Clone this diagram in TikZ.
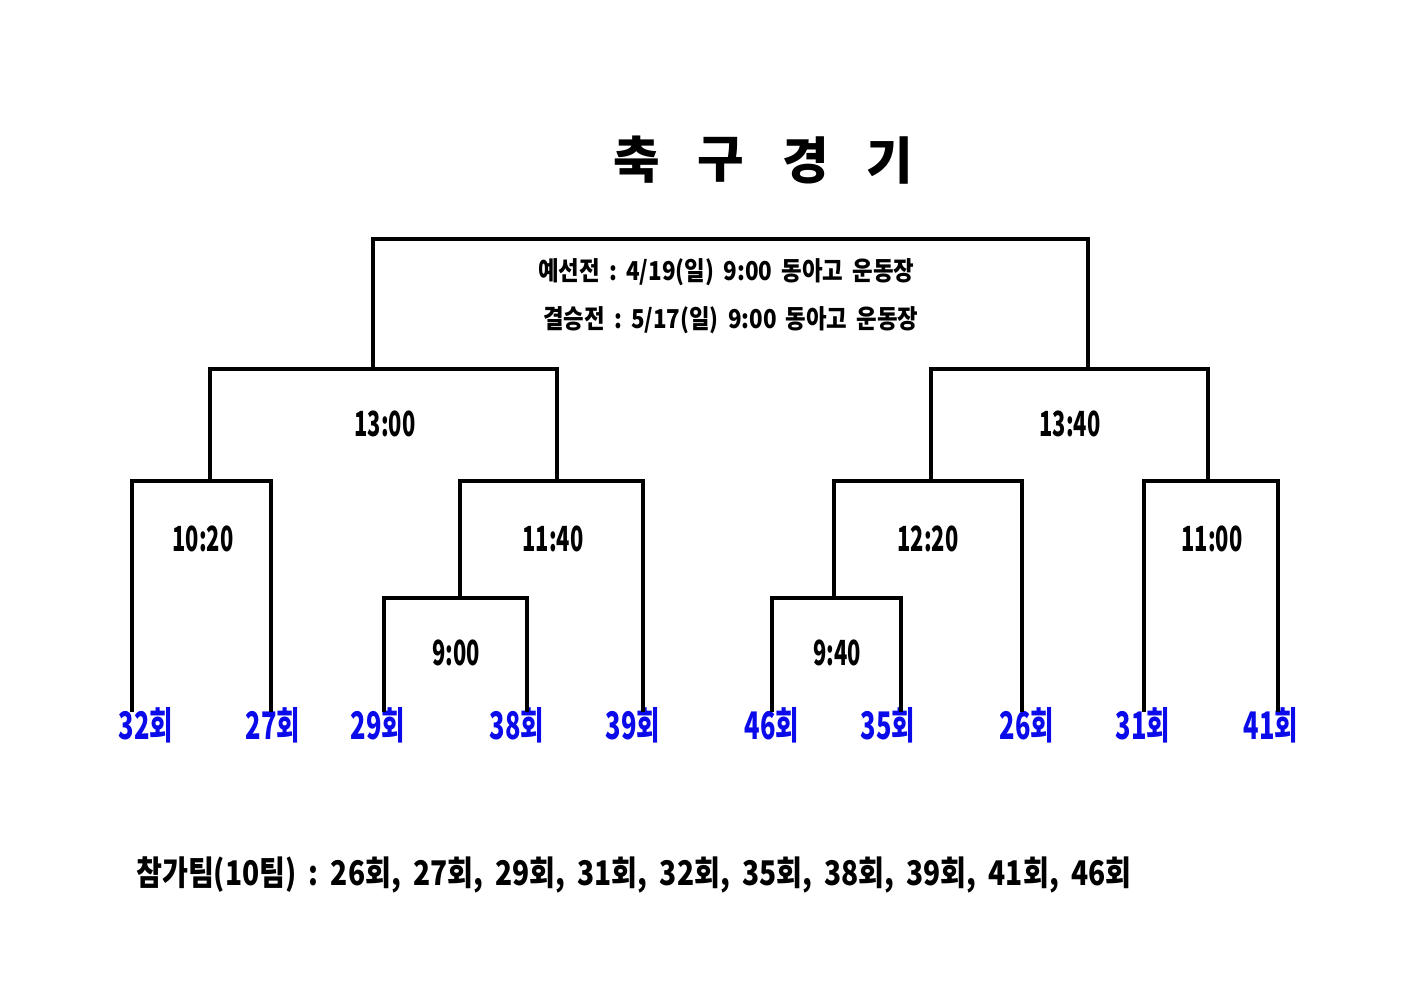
\documentclass[tikz,border=0pt]{standalone}
\usepackage{fontspec}
\newfontfamily\kr{Noto Sans CJK KR Black}
\newdimen\pxu \pxu=0.75pt
\newcommand\nar[2]{\scalebox{#1}[1]{#2}}
\newcommand\fitw[2]{\resizebox{#1\pxu}{\height}{#2}}
\newcommand\isp{\hspace{8pt}}
\newcommand\fsp{\hspace{11pt}}
\definecolor{teamblue}{RGB}{10,10,235}
\begin{document}
\begin{tikzpicture}[x=0.75pt,y=-0.75pt,
  br/.style={line width=2.3pt,line join=miter,line cap=rect},
  tm/.style={inner sep=0pt,font=\kr\fontsize{26}{26}\selectfont},
  team/.style={inner sep=0pt,text=teamblue,font=\kr\fontsize{28.5}{28.5}\selectfont},
  info/.style={inner sep=0pt,font=\kr\fontsize{19.5}{19.5}\selectfont},
  ttl/.style={inner sep=0pt,font=\kr\fontsize{38}{38}\selectfont},
  foot/.style={inner sep=0pt,font=\kr\fontsize{25.5}{25.5}\selectfont}]
\useasboundingbox[fill=white] (0,0) rectangle (1403,992);
% title
\node[ttl] (title1) at (637,160) {축};
\node[ttl] (title2) at (721,160) {구};
\node[ttl] (title3) at (806,160) {경};
\node[ttl] (title4) at (890,160) {기};
% info
\node[info,anchor=west] (info1) at (538,272) {\fitw{376}{예선전\isp{}:\isp{}4/19(일)\isp{}9:00\isp{}동아고\isp{}운동장}};
\node[info,anchor=west] (info2) at (543,320) {\fitw{375}{결승전\isp{}:\isp{}5/17(일)\isp{}9:00\isp{}동아고\isp{}운동장}};
% team labels
\node[team] (t32) at (146,725) {\nar{0.67}{32회}};
\node[team] (t27) at (273,725) {\nar{0.67}{27회}};
\node[team] (t29) at (378,725) {\nar{0.67}{29회}};
\node[team] (t38) at (517,725) {\nar{0.67}{38회}};
\node[team] (t39) at (633,725) {\nar{0.67}{39회}};
\node[team] (t46) at (772,725) {\nar{0.67}{46회}};
\node[team] (t35) at (888,725) {\nar{0.67}{35회}};
\node[team] (t26) at (1027,725) {\nar{0.67}{26회}};
\node[team] (t31) at (1143,725) {\nar{0.67}{31회}};
\node[team] (t41) at (1271,725) {\nar{0.67}{41회}};
% leg end coordinates
\coordinate (l32) at (132,710);
\coordinate (l27) at (271,710);
\coordinate (l29) at (384,710);
\coordinate (l38) at (527,710);
\coordinate (l39) at (643,710);
\coordinate (l46) at (772,710);
\coordinate (l35) at (901,710);
\coordinate (l26) at (1022,710);
\coordinate (l31) at (1144,710);
\coordinate (l41) at (1278,710);
% junction coordinates
\coordinate (jA) at (460,598);
\coordinate (jB) at (834,598);
\coordinate (j1020) at (210,481);
\coordinate (j1140) at (557,481);
\coordinate (j1220) at (931,481);
\coordinate (j1100) at (1208,481);
\coordinate (jL) at (373,369);
\coordinate (jR) at (1088,369);
% brackets
\draw[br] (l29) |- (jA) -| (l38);
\draw[br] (l46) |- (jB) -| (l35);
\draw[br] (l32) |- (j1020) -| (l27);
\draw[br] (jA) |- (j1140) -| (l39);
\draw[br] (jB) |- (j1220) -| (l26);
\draw[br] (l31) |- (j1100) -| (l41);
\draw[br] (j1020) |- (jL) -| (j1140);
\draw[br] (j1220) |- (jR) -| (j1100);
\draw[br] (jL) -- (373,239) -- (1088,239) -- (jR);
% times
\node[tm] (m1300) at (385,424) {\nar{0.63}{13:00}};
\node[tm] (m1340) at (1070,424) {\nar{0.63}{13:40}};
\node[tm] (m1020) at (203,539) {\nar{0.63}{10:20}};
\node[tm] (m1140) at (553,539) {\nar{0.63}{11:40}};
\node[tm] (m1220) at (928,539) {\nar{0.63}{12:20}};
\node[tm] (m1100) at (1212,539) {\nar{0.63}{11:00}};
\node[tm] (m900) at (456,653) {\nar{0.63}{9:00}};
\node[tm] (m940) at (837,653) {\nar{0.63}{9:40}};
% footer
\node[foot,anchor=west] (foot) at (136,875) {\fitw{995}{참가팀(10팀)\fsp{}:\fsp{}26회,\fsp{}27회,\fsp{}29회,\fsp{}31회,\fsp{}32회,\fsp{}35회,\fsp{}38회,\fsp{}39회,\fsp{}41회,\fsp{}46회}};
\end{tikzpicture}
\end{document}
